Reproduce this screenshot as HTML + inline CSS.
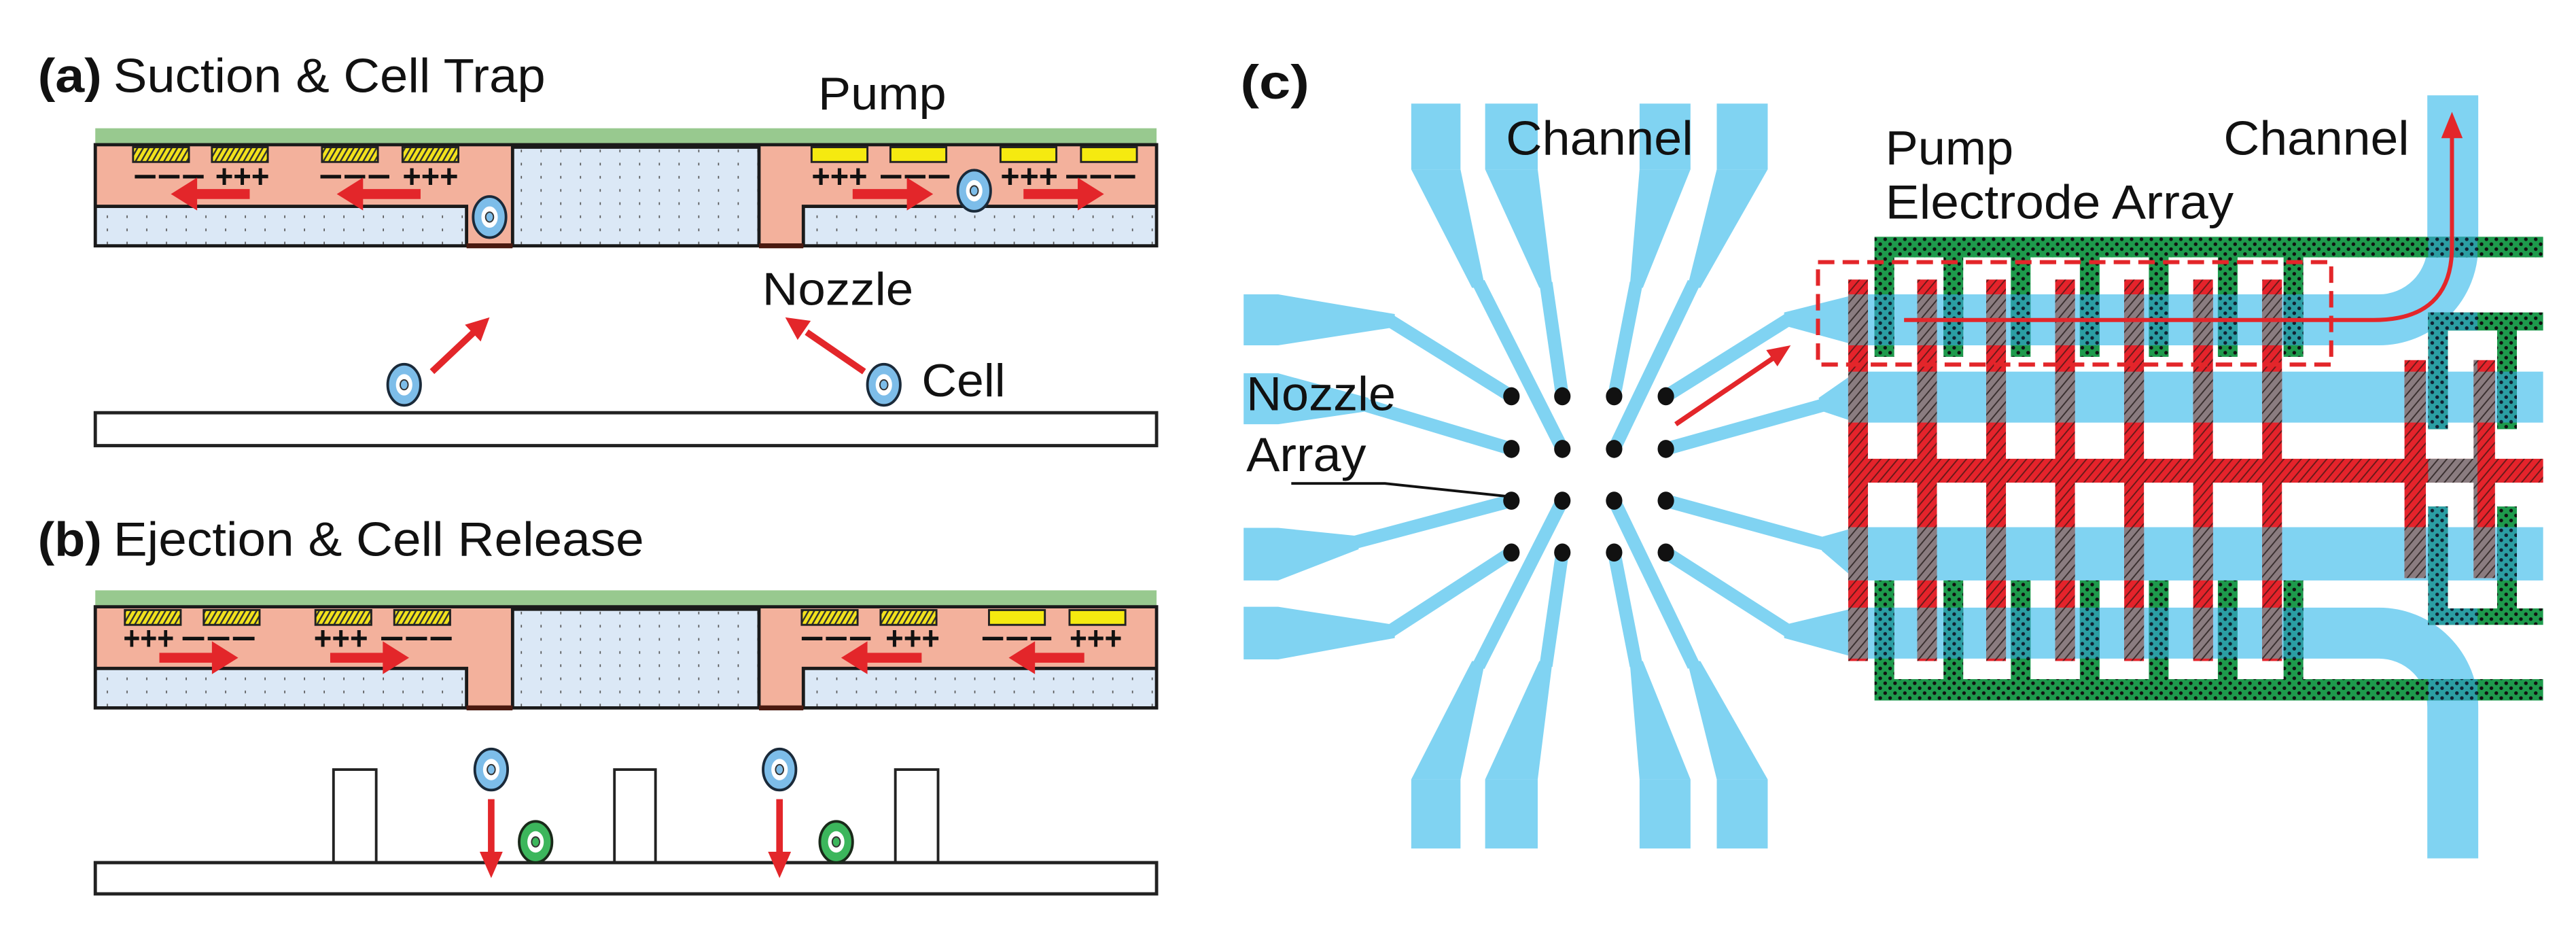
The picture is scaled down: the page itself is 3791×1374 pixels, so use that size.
<!DOCTYPE html>
<html><head><meta charset="utf-8"><style>
html,body{margin:0;padding:0;background:#fff;}
svg{display:block;}
text{font-family:"Liberation Sans",Arial,sans-serif;fill:#111;}
</style></head><body>
<svg width="3791" height="1374" viewBox="0 0 1568 568" preserveAspectRatio="none" xmlns="http://www.w3.org/2000/svg">
<defs>
<pattern id="dotB" patternUnits="userSpaceOnUse" width="12" height="8"><rect width="12" height="8" fill="#dbe8f6"/><rect x="5" y="3" width="0.7" height="1.6" fill="#555"/></pattern>
<pattern id="hatchY" patternUnits="userSpaceOnUse" width="3" height="3" patternTransform="rotate(30)"><rect width="3" height="3" fill="#f2e21c"/><rect width="1" height="3" fill="#333"/></pattern>
<pattern id="hatchR" patternUnits="userSpaceOnUse" width="4" height="4" patternTransform="rotate(40)"><rect width="4" height="4" fill="#e5232b"/><rect width="0.8" height="4" fill="#6a1a1a"/></pattern>
<pattern id="hatchG" patternUnits="userSpaceOnUse" width="4" height="4" patternTransform="rotate(40)"><rect width="4" height="4" fill="#8a7c80"/><rect width="0.8" height="4" fill="#3a3030"/></pattern>
<pattern id="dotG" patternUnits="userSpaceOnUse" width="6" height="6"><rect width="6" height="6" fill="#1e9a4c"/><circle cx="1.5" cy="1.5" r="1.1" fill="#111"/><circle cx="4.5" cy="4.5" r="1.1" fill="#111"/></pattern>
<pattern id="dotT" patternUnits="userSpaceOnUse" width="6" height="6"><rect width="6" height="6" fill="#2b9ea3"/><circle cx="1.5" cy="1.5" r="1.1" fill="#123"/><circle cx="4.5" cy="4.5" r="1.1" fill="#123"/></pattern>
<g id="cellB"><ellipse rx="10" ry="12.5" fill="#7dbde9" stroke="#1a2a3a" stroke-width="1.6"/><ellipse rx="5" ry="6.5" fill="#fff"/><ellipse rx="2.4" ry="3" fill="#7dbde9" stroke="#333" stroke-width="0.8"/></g>
<g id="cellG"><ellipse rx="10" ry="12.5" fill="#3cb65c" stroke="#1a2a1a" stroke-width="1.6"/><ellipse rx="5" ry="6.5" fill="#fff"/><ellipse rx="2.4" ry="3" fill="#3cb65c" stroke="#333" stroke-width="0.8"/></g>
<g id="chip">
<rect x="58" y="78" width="646" height="10" fill="#98c98f"/>
<rect x="58" y="88" width="646" height="61.5" fill="#f3b19c"/>
<rect x="312" y="89" width="150" height="60.5" fill="url(#dotB)"/>
<rect x="58" y="125.5" width="226" height="24" fill="url(#dotB)"/>
<rect x="489" y="125.5" width="215" height="24" fill="url(#dotB)"/>
<path d="M58,88 H704 V149.5 H58 Z" fill="none" stroke="#1a1a1a" stroke-width="2"/>
<path d="M58,125.5 H284 V149.5 M489,149.5 V125.5 H704 M312,88 V149.5 M462,88 V149.5 M312,89.5 H462" fill="none" stroke="#1a1a1a" stroke-width="2"/>
<path d="M284,149.5 H312 M462,149.5 H489" stroke="#4a1a10" stroke-width="3"/>
</g>
<g id="redE">
<rect x="1125" y="170" width="12" height="232"/>
<rect x="1167" y="170" width="12" height="232"/><rect x="1209" y="170" width="12" height="232"/><rect x="1251" y="170" width="12" height="232"/><rect x="1293" y="170" width="12" height="232"/><rect x="1335" y="170" width="12" height="232"/><rect x="1377" y="170" width="12" height="232"/>
<rect x="1125" y="279" width="423" height="14.5"/>
<rect x="1463.6" y="219" width="13" height="132.5"/><rect x="1505.7" y="219" width="13" height="132.5"/>
</g>
<g id="greenE">
<rect x="1141" y="144" width="407" height="12.5"/>
<rect x="1141" y="156" width="12" height="61"/><rect x="1183" y="156" width="12" height="61"/><rect x="1224" y="156" width="12" height="61"/><rect x="1266" y="156" width="12" height="61"/><rect x="1308" y="156" width="12" height="61"/><rect x="1350" y="156" width="12" height="61"/><rect x="1390" y="156" width="12" height="61"/>
<rect x="1141" y="413" width="407" height="13"/>
<rect x="1141" y="353" width="12" height="61"/><rect x="1183" y="353" width="12" height="61"/><rect x="1224" y="353" width="12" height="61"/><rect x="1266" y="353" width="12" height="61"/><rect x="1308" y="353" width="12" height="61"/><rect x="1350" y="353" width="12" height="61"/><rect x="1390" y="353" width="12" height="61"/>
<rect x="1478" y="190" width="12" height="71"/><rect x="1478" y="190" width="70" height="11"/><rect x="1520" y="200" width="12" height="61"/>
<rect x="1478" y="308" width="12" height="72"/><rect x="1478" y="370" width="70" height="10"/><rect x="1520" y="308" width="12" height="63"/>
</g>
<clipPath id="chClip">
<rect x="1105" y="179" width="373" height="31"/>
<rect x="1105" y="226" width="443" height="31"/>
<rect x="1105" y="320.6" width="443" height="32.4"/>
<rect x="1105" y="369.5" width="373" height="31"/>
<rect x="1478" y="58" width="30" height="464"/>
</clipPath>
</defs>

<text x="23" y="56" font-size="29" font-weight="bold" textLength="39" lengthAdjust="spacingAndGlyphs">(a)</text>
<text x="69" y="56" font-size="29" textLength="263" lengthAdjust="spacingAndGlyphs">Suction &amp; Cell Trap</text>
<text x="498" y="66.5" font-size="28" textLength="78" lengthAdjust="spacingAndGlyphs">Pump</text>
<use href="#chip"/>
<g stroke="#222" stroke-width="1.2">
<rect x="81" y="89.5" width="34" height="9" fill="url(#hatchY)"/><rect x="129" y="89.5" width="34" height="9" fill="url(#hatchY)"/>
<rect x="196" y="89.5" width="34" height="9" fill="url(#hatchY)"/><rect x="245" y="89.5" width="34" height="9" fill="url(#hatchY)"/>
<rect x="494" y="89.5" width="34" height="9" fill="#f5ea10"/><rect x="542" y="89.5" width="34" height="9" fill="#f5ea10"/>
<rect x="609" y="89.5" width="34" height="9" fill="#f5ea10"/><rect x="658" y="89.5" width="34" height="9" fill="#f5ea10"/>
</g>
<g font-size="20" font-weight="bold">
<text x="81" y="114" textLength="44" lengthAdjust="spacingAndGlyphs">−−−</text><text x="131" y="114" textLength="33" lengthAdjust="spacingAndGlyphs">+++</text>
<text x="194" y="114" textLength="44" lengthAdjust="spacingAndGlyphs">−−−</text><text x="245" y="114" textLength="34" lengthAdjust="spacingAndGlyphs">+++</text>
<text x="494" y="114" textLength="34" lengthAdjust="spacingAndGlyphs">+++</text><text x="535" y="114" textLength="44" lengthAdjust="spacingAndGlyphs">−−−</text>
<text x="609" y="114" textLength="35" lengthAdjust="spacingAndGlyphs">+++</text><text x="648" y="114" textLength="44" lengthAdjust="spacingAndGlyphs">−−−</text>
</g>
<g fill="#e3262a">
<polygon points="104,118 120,108 120,115 152,115 152,121 120,121 120,128"/>
<polygon points="205,118 221,108 221,115 256,115 256,121 221,121 221,128"/>
<polygon points="568,118 552,108 552,115 519,115 519,121 552,121 552,128"/>
<polygon points="672,118 656,108 656,115 623,115 623,121 656,121 656,128"/>
</g>
<use href="#cellB" x="298" y="132"/>
<use href="#cellB" x="593" y="116"/>
<text x="464" y="185.5" font-size="28" textLength="92" lengthAdjust="spacingAndGlyphs">Nozzle</text>
<text x="561" y="241" font-size="28" textLength="51" lengthAdjust="spacingAndGlyphs">Cell</text>
<line x1="263" y1="226" x2="289" y2="201.5" stroke="#e3262a" stroke-width="4"/>
<polygon points="298,193 292.6,207.7 283,197.5" fill="#e3262a"/>
<line x1="526" y1="226" x2="491" y2="202" stroke="#e3262a" stroke-width="4"/>
<polygon points="478,193 493.5,195.1 485.5,206.7" fill="#e3262a"/>
<use href="#cellB" x="246" y="234"/>
<use href="#cellB" x="538" y="234"/>
<rect x="58" y="251" width="646" height="20" fill="#fff" stroke="#222" stroke-width="2"/>

<text x="23" y="338" font-size="29" font-weight="bold" textLength="39" lengthAdjust="spacingAndGlyphs">(b)</text>
<text x="69" y="338" font-size="29" textLength="323" lengthAdjust="spacingAndGlyphs">Ejection &amp; Cell Release</text>
<g transform="translate(0,281)">
<use href="#chip"/>
<g stroke="#222" stroke-width="1.2">
<rect x="76" y="90" width="34" height="9" fill="url(#hatchY)"/><rect x="124" y="90" width="34" height="9" fill="url(#hatchY)"/>
<rect x="192" y="90" width="34" height="9" fill="url(#hatchY)"/><rect x="240" y="90" width="34" height="9" fill="url(#hatchY)"/>
<rect x="488" y="90" width="34" height="9" fill="url(#hatchY)"/><rect x="536" y="90" width="34" height="9" fill="url(#hatchY)"/>
<rect x="602" y="90" width="34" height="9" fill="#f5ea10"/><rect x="651" y="90" width="34" height="9" fill="#f5ea10"/>
</g>
<g font-size="20" font-weight="bold">
<text x="75" y="114" textLength="31" lengthAdjust="spacingAndGlyphs">+++</text><text x="110" y="114" textLength="46" lengthAdjust="spacingAndGlyphs">−−−</text>
<text x="191" y="114" textLength="33" lengthAdjust="spacingAndGlyphs">+++</text><text x="231" y="114" textLength="45" lengthAdjust="spacingAndGlyphs">−−−</text>
<text x="487" y="114" textLength="44" lengthAdjust="spacingAndGlyphs">−−−</text><text x="539" y="114" textLength="33" lengthAdjust="spacingAndGlyphs">+++</text>
<text x="597" y="114" textLength="44" lengthAdjust="spacingAndGlyphs">−−−</text><text x="651" y="114" textLength="32" lengthAdjust="spacingAndGlyphs">+++</text>
</g>
<g fill="#e3262a">
<polygon points="145,119 129,109 129,116 97,116 97,122 129,122 129,129"/>
<polygon points="249,119 233,109 233,116 201,116 201,122 233,122 233,129"/>
<polygon points="512,119 528,109 528,116 561,116 561,122 528,122 528,129"/>
<polygon points="614,119 630,109 630,116 660,116 660,122 630,122 630,129"/>
</g>
</g>
<g fill="#fff" stroke="#222" stroke-width="1.6">
<rect x="203" y="468" width="26" height="57"/><rect x="374" y="468" width="25" height="57"/><rect x="545" y="468" width="26" height="57"/>
</g>
<rect x="58" y="524.6" width="646" height="19" fill="#fff" stroke="#222" stroke-width="2"/>
<use href="#cellB" x="299" y="468"/>
<use href="#cellB" x="474.5" y="468"/>
<use href="#cellG" x="326" y="512"/>
<use href="#cellG" x="509" y="512"/>
<g fill="#e3262a">
<rect x="297" y="486" width="4" height="34"/><polygon points="292,518 306,518 299,534"/>
<rect x="472.5" y="486" width="4" height="34"/><polygon points="467.5,518 481.5,518 474.5,534"/>
</g>

<text x="755" y="60" font-size="29" font-weight="bold" textLength="42" lengthAdjust="spacingAndGlyphs">(c)</text>
<g fill="#80d3f2" stroke="none">
<rect x="859" y="63" width="30" height="40"/><polygon points="859,103 889,103 904,175 896,175"/>
<rect x="904" y="63" width="32" height="40"/><polygon points="904,103 936,103 945,175 937,175"/>
<rect x="998" y="63" width="31" height="40"/><polygon points="998,103 1029,103 1000,175 992,175"/>
<rect x="1045" y="63" width="31" height="40"/><polygon points="1045,103 1076,103 1035,175 1027,175"/>
<rect x="859" y="474" width="30" height="42"/><polygon points="859,474 889,474 904,402 896,402"/>
<rect x="904" y="474" width="32" height="42"/><polygon points="904,474 936,474 945,402 937,402"/>
<rect x="998" y="474" width="31" height="42"/><polygon points="998,474 1029,474 1000,402 992,402"/>
<rect x="1045" y="474" width="31" height="42"/><polygon points="1045,474 1076,474 1035,402 1027,402"/>
<rect x="757" y="179" width="21" height="31"/><polygon points="778,179 778,210 849,199 849,191"/>
<rect x="757" y="227" width="21" height="31"/><polygon points="778,227 778,258 833,250 833,242"/>
<rect x="757" y="321" width="21" height="32"/><polygon points="778,321 778,353 827,334 827,326"/>
<rect x="757" y="369" width="21" height="32"/><polygon points="778,369 778,401 849,388 849,380"/>
<polygon points="1086,190 1130,179 1130,210 1086,198"/>
<polygon points="1107,242 1130,226 1130,257 1109,250"/>
<polygon points="1107,327 1130,320.6 1130,353 1109,335"/>
<polygon points="1086,380 1130,369.5 1130,400 1086,388"/>
<rect x="1128" y="226" width="420" height="31"/>
<rect x="1128" y="320.6" width="420" height="32.4"/>
</g>
<g stroke="#80d3f2" stroke-width="8" fill="none">
<path d="M900,172 L951,273"/><path d="M941,172 L951,241"/><path d="M996,172 L982.5,241"/><path d="M1031,172 L982.5,273"/>
<path d="M900,405 L951,304.5"/><path d="M941,405 L951,336"/><path d="M996,405 L982.5,336"/><path d="M1031,405 L982.5,304.5"/>
<path d="M846,195 L920,241"/><path d="M830,246 L920,273"/><path d="M824,330 L920,304.5"/><path d="M846,384 L920,336"/>
<path d="M1014,241 L1089,194"/><path d="M1014,273 L1111,246"/><path d="M1014,304.5 L1111,331"/><path d="M1014,336 L1089,384"/>
</g>
<g stroke="#80d3f2" stroke-width="31" fill="none">
<path d="M1128,194.5 H1448 A45,45 0 0 0 1493,149.5 V58"/>
<path d="M1128,385 H1448 A45,45 0 0 1 1493,430 V522"/>
</g>
<use href="#redE" fill="url(#hatchR)"/>
<use href="#greenE" fill="url(#dotG)"/>
<g clip-path="url(#chClip)">
<use href="#redE" fill="url(#hatchG)"/>
<use href="#greenE" fill="url(#dotT)"/>
</g>
<g fill="#111">
<ellipse cx="920" cy="241" rx="5" ry="5.5"/><ellipse cx="951" cy="241" rx="5" ry="5.5"/><ellipse cx="982.5" cy="241" rx="5" ry="5.5"/><ellipse cx="1014" cy="241" rx="5" ry="5.5"/>
<ellipse cx="920" cy="273" rx="5" ry="5.5"/><ellipse cx="951" cy="273" rx="5" ry="5.5"/><ellipse cx="982.5" cy="273" rx="5" ry="5.5"/><ellipse cx="1014" cy="273" rx="5" ry="5.5"/>
<ellipse cx="920" cy="304.5" rx="5" ry="5.5"/><ellipse cx="951" cy="304.5" rx="5" ry="5.5"/><ellipse cx="982.5" cy="304.5" rx="5" ry="5.5"/><ellipse cx="1014" cy="304.5" rx="5" ry="5.5"/>
<ellipse cx="920" cy="336" rx="5" ry="5.5"/><ellipse cx="951" cy="336" rx="5" ry="5.5"/><ellipse cx="982.5" cy="336" rx="5" ry="5.5"/><ellipse cx="1014" cy="336" rx="5" ry="5.5"/>
</g>
<rect x="1106.6" y="159.4" width="312.4" height="62.3" fill="none" stroke="#e3262a" stroke-width="2.5" stroke-dasharray="10 5"/>
<path d="M1159,194.6 H1445 Q1492.5,194.6 1492.5,150 V82" fill="none" stroke="#e3262a" stroke-width="2.5"/>
<polygon points="1486,84 1499,84 1492.5,68" fill="#e3262a"/>
<line x1="1020" y1="258" x2="1079" y2="218" stroke="#e3262a" stroke-width="3"/>
<polygon points="1090,210 1081.9,222.8 1075.1,212.9" fill="#e3262a"/>
<path d="M786,294 H843 L919,302" fill="none" stroke="#111" stroke-width="1.6"/>
<g font-size="29">
<text x="916.6" y="94" textLength="114" lengthAdjust="spacingAndGlyphs">Channel</text>
<text x="1353.5" y="94" textLength="113" lengthAdjust="spacingAndGlyphs">Channel</text>
<text x="1147.6" y="100" textLength="78" lengthAdjust="spacingAndGlyphs">Pump</text>
<text x="1147.6" y="133" textLength="212" lengthAdjust="spacingAndGlyphs">Electrode Array</text>
<text x="758.6" y="249.5" textLength="91" lengthAdjust="spacingAndGlyphs">Nozzle</text>
<text x="758.6" y="286.4" textLength="73" lengthAdjust="spacingAndGlyphs">Array</text>
</g>
</svg>
</body></html>
